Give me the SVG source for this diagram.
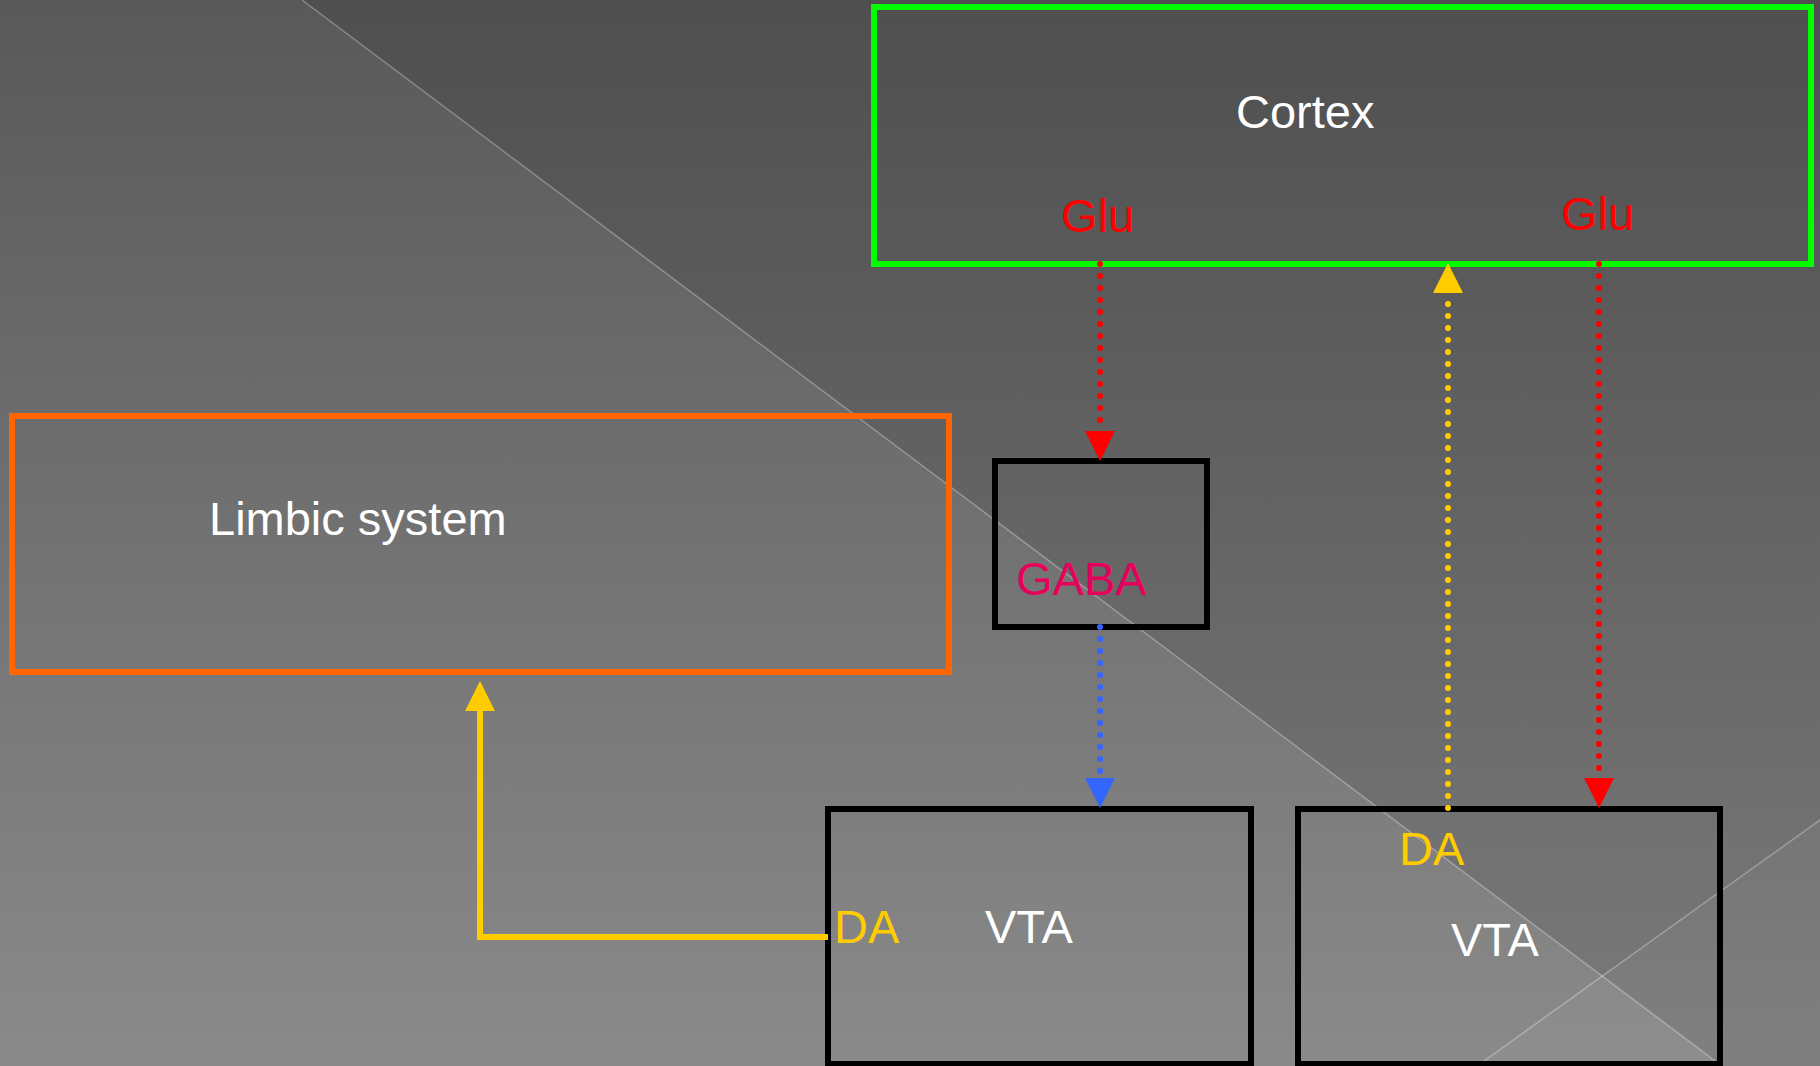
<svg xmlns="http://www.w3.org/2000/svg" width="1820" height="1066" viewBox="0 0 1820 1066">
<style>
  .box{fill:none;stroke-width:6}
  .lbl{font-family:"Liberation Sans",Arial,sans-serif;font-size:47px}
  .dot{fill:none;stroke-width:6;stroke-linecap:round;stroke-dasharray:0 12}
  .head{stroke-width:0;fill:none}
</style>
<defs>
  <linearGradient id="bg" x1="0" y1="0" x2="0" y2="1">
    <stop offset="0" stop-color="#595959"/>
    <stop offset="1" stop-color="#8a8a8a"/>
  </linearGradient>
  <marker id="aRed" markerUnits="userSpaceOnUse" markerWidth="30" markerHeight="30" viewBox="0 0 30 30" refX="30" refY="15" orient="auto">
    <path d="M0,0 L30,15 L0,30 Z" fill="#ff0000"/>
  </marker>
  <marker id="aBlue" markerUnits="userSpaceOnUse" markerWidth="30" markerHeight="30" viewBox="0 0 30 30" refX="30" refY="15" orient="auto">
    <path d="M0,0 L30,15 L0,30 Z" fill="#3366ff"/>
  </marker>
  <marker id="aYel" markerUnits="userSpaceOnUse" markerWidth="30" markerHeight="30" viewBox="0 0 30 30" refX="30" refY="15" orient="auto">
    <path d="M0,0 L30,15 L0,30 Z" fill="#ffcc00"/>
  </marker>
</defs>
<g id="background">
  <rect x="0" y="0" width="1820" height="1066" fill="url(#bg)"/>
  <polygon points="302,0 1820,0 1820,1066 1722,1066" fill="#000" fill-opacity="0.11"/>
  <polygon points="1477,1066 1820,820 1820,1066" fill="#fff" fill-opacity="0.04"/>
  <line x1="302" y1="0" x2="1722" y2="1066" stroke="#fff" stroke-opacity="0.3" stroke-width="1.5"/>
  <line x1="1477" y1="1066" x2="1820" y2="820" stroke="#fff" stroke-opacity="0.3" stroke-width="1.5"/>
</g>
<g id="cortex">
  <rect class="box" x="874" y="7" width="937" height="257" stroke="#00ff00"/>
  <text class="lbl" x="1236" y="128" fill="#ffffff">Cortex</text>
  <text class="lbl" x="1061" y="232" fill="#ff0000">Glu</text>
  <text class="lbl" x="1561" y="230" fill="#ff0000">Glu</text>
</g>
<g id="limbic">
  <rect class="box" x="12" y="416" width="937" height="256" stroke="#ff6600"/>
  <text class="lbl" x="209" y="535" fill="#ffffff">Limbic system</text>
</g>
<g id="gaba">
  <rect class="box" x="995" y="461" width="212" height="166" stroke="#000000"/>
  <text class="lbl" x="1016" y="595" fill="#e6005c">GABA</text>
</g>
<g id="vta-left">
  <rect class="box" x="828" y="809" width="423" height="255" stroke="#000000"/>
  <text class="lbl" x="834" y="943" fill="#ffcc00">DA</text>
  <text class="lbl" x="985" y="943" fill="#ffffff">VTA</text>
</g>
<g id="vta-right">
  <rect class="box" x="1298" y="809" width="422" height="255" stroke="#000000"/>
  <text class="lbl" x="1399" y="865" fill="#ffcc00">DA</text>
  <text class="lbl" x="1451" y="956" fill="#ffffff">VTA</text>
</g>
<g id="connectors">
  <line class="dot" x1="1100" y1="264" x2="1100" y2="431" stroke="#ff0000"/>
  <path class="head" d="M1100,431 L1100,461" stroke="#ff0000" marker-end="url(#aRed)"/>
  <line class="dot" x1="1599" y1="264" x2="1599" y2="779" stroke="#ff0000"/>
  <path class="head" d="M1599,779 L1599,808" stroke="#ff0000" marker-end="url(#aRed)"/>
  <line class="dot" x1="1448" y1="808" x2="1448" y2="294" stroke="#ffcc00"/>
  <path class="head" d="M1448,294 L1448,263" stroke="#ffcc00" marker-end="url(#aYel)"/>
  <line class="dot" x1="1100" y1="627" x2="1100" y2="779" stroke="#3366ff"/>
  <path class="head" d="M1100,779 L1100,808" stroke="#3366ff" marker-end="url(#aBlue)"/>
  <polyline points="828,937 480,937 480,708" fill="none" stroke="#ffcc00" stroke-width="6"/>
  <path class="head" d="M480,708 L480,681" stroke="#ffcc00" marker-end="url(#aYel)"/>
</g>
</svg>
